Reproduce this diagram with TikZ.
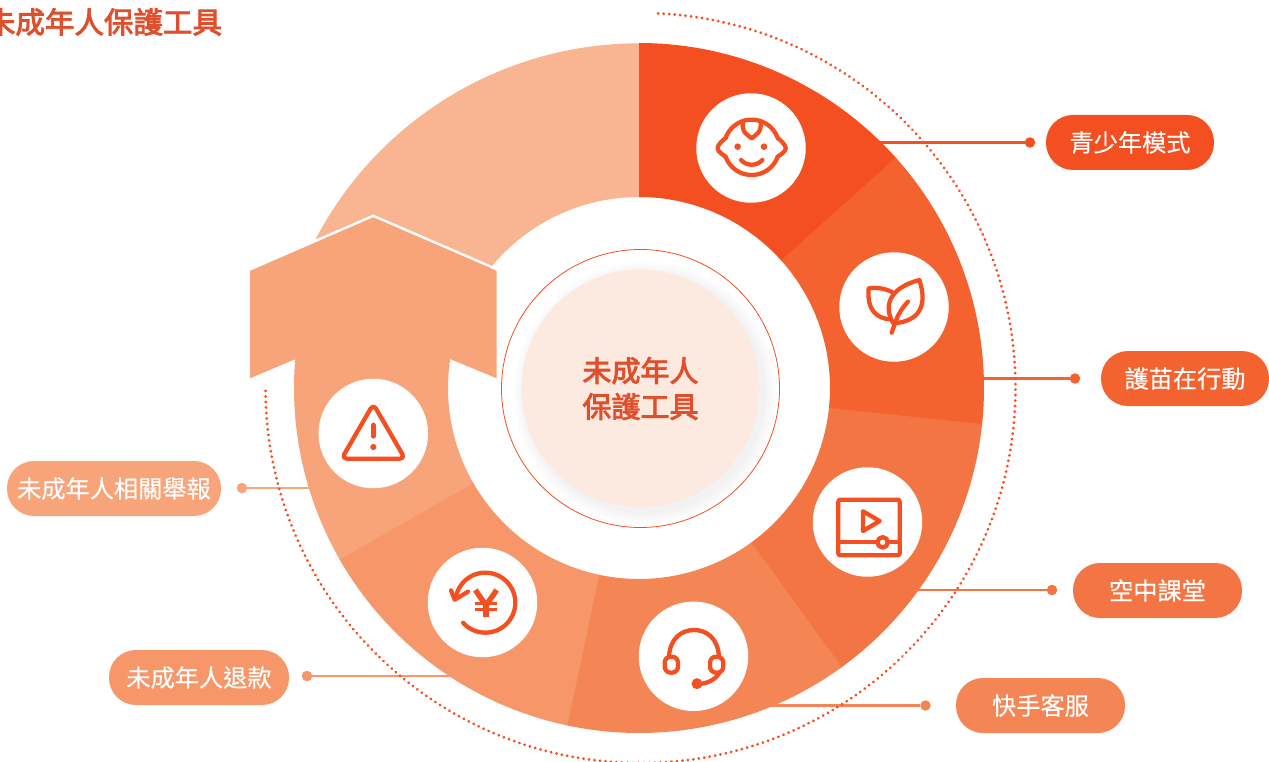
\documentclass[tikz,border=0pt]{standalone}
\usepackage{fontspec}
\setmainfont[FakeBold=0.25]{Noto Sans CJK TC}
\newfontfamily\medfont[FakeBold=3]{Noto Sans CJK TC}
\definecolor{sa}{HTML}{F34F21}
\definecolor{sb}{HTML}{F3622F}
\definecolor{sc}{HTML}{F37543}
\definecolor{sd}{HTML}{F48656}
\definecolor{se}{HTML}{F79668}
\definecolor{sf}{HTML}{F7A47B}
\definecolor{sg}{HTML}{F9B492}
\definecolor{disk}{HTML}{FCE9DF}
\definecolor{ctext}{HTML}{DF4F2C}
\tikzset{
 pill/.style={fill=#1,rounded corners=27pt,minimum height=55pt,inner sep=0pt,text=white,font=\fontsize{24.2}{28}\selectfont},
 leader/.style={draw=#1,line width=2.8pt},
 enddot/.style={circle,fill=#1,minimum size=10.5pt,inner sep=0pt},
 iconbg/.style={circle,fill=white,minimum size=109.5pt,inner sep=0pt},
 icon/.style={draw=sa,line width=4.3pt,line cap=round,line join=round},
 zoomed/.style={x=0.33333pt,y=-0.33333pt},
}
\newcommand{\ringsec}[3]{\fill[#3] (#1:191) -- (#1:345) arc[start angle=#1,end angle=#2,radius=345pt] -- (#2:191) arc[start angle=#2,end angle=#1,radius=191pt] -- cycle;}
\begin{document}
\begin{tikzpicture}[x=1pt,y=-1pt]
\useasboundingbox (0,0) rectangle (1269,762);
\clip (0,0) rectangle (1269,762);
% leaders underneath the ring
\coordinate (la) at (860,142.5);
\coordinate (lb) at (960,378.5);
\coordinate (lc) at (900,590);
\coordinate (ld) at (750,705.5);
\coordinate (le) at (470,676);
\coordinate (lf) at (330,488);
\node[enddot=sa] (da) at (1030,142.5) {};
\node[enddot=sb] (db) at (1075,378.5) {};
\node[enddot=sc] (dc) at (1052,590) {};
\node[enddot=sd] (dd) at (925.5,705.5) {};
\node[enddot=se] (de) at (307,676) {};
\node[enddot=sf] (df) at (242,488) {};
\draw[leader=sa] (la) -- (da);
\draw[leader=sb] (lb) -- (db);
\draw[leader=sc] (lc) -- (dc);
\draw[leader=sd] (ld) -- (dd);
\draw[leader=se] (le) -- (de);
\draw[leader=sf] (lf) -- (df);
% ring
\begin{scope}[shift={(639,388)},y=1pt]
\fill[sg] (0.3,191) -- (0.3,344.7) arc[start angle=90,end angle=155,radius=365.4pt] -- (-239,88) -- (145:191) arc[start angle=145,end angle=90,radius=191pt] -- cycle;
\ringsec{90}{41.6}{sa}
\ringsec{41.9}{-6.3}{sb}
\ringsec{-6}{-54.3}{sc}
\ringsec{-54}{-102.2}{sd}
\ringsec{-102}{-150.4}{se}
\ringsec{-150.2}{-190}{sf}
\end{scope}
% arrow head
\fill[sf] (250,270.7) -- (373.3,217.3) -- (496.7,270.7) -- (496.7,378.3) -- (450,359) -- (295.7,359) -- (250,378.3) -- cycle;
\draw[white,line width=2.4pt] (250,269.2) -- (373.3,215.8) -- (496.7,269.2);
% dotted arc
\begin{scope}[shift={(640.5,388)},y=1pt]
\draw[sa,line width=3.1pt,line cap=round,dash pattern=on 0.01pt off 5.5pt] (87.3:375) arc[start angle=87.3,end angle=-180,radius=375pt];
\end{scope}
% centre
\foreach \r in {132,131,...,120}{\fill[black,opacity=.0055] (645,393) circle[radius=\r pt];}
\draw[sa,line width=.8pt] (640.5,388.5) circle[radius=139pt];
\node[circle,fill=disk,minimum size=238pt,inner sep=0pt,text=ctext,align=center,font=\fontsize{29}{36}\medfont] (core) at (640.5,388.5) {未成年人\\保護工具};
% icon discs
\node[iconbg] (ca) at (751,148) {};
\node[iconbg] (cb) at (894,307) {};
\node[iconbg] (cc) at (867.5,522) {};
\node[iconbg] (cd) at (693.5,656.3) {};
\node[iconbg] (ce) at (482.5,602.5) {};
\node[iconbg] (cf) at (373.3,433.5) {};
% baby
\begin{scope}[shift={(705,105)},zoomed]
\draw[icon] plot[domain=20:160,samples=30,smooth] ({140+83*cos(\x)},{127-83*sin(\x)});
\draw[icon] plot[domain=200:340,samples=30,smooth] ({140+83*cos(\x)},{127-83*sin(\x)});
\draw[icon] (62,99) .. controls (42,115) and (32,128) .. (41,138) .. controls (46,145) and (55,150) .. (62,155);
\draw[icon] (218,99) .. controls (238,115) and (248,128) .. (239,138) .. controls (234,145) and (225,150) .. (218,155);
\draw[icon] (113,52) .. controls (110,85) and (130,90) .. (140,100) .. controls (150,90) and (170,85) .. (167,52);
\fill[sa] (98,125) circle[radius=3.3pt];
\fill[sa] (177,125) circle[radius=3.3pt];
\draw[icon] (108,165) .. controls (125,184) and (155,184) .. (172,165);
\end{scope}
% leaf
\begin{scope}[shift={(680,80)},zoomed]
\draw[icon] (640,730) .. controls (610,680) and (625,625) .. (718,600) .. controls (745,680) and (715,725) .. (640,730);
\draw[icon] (635,758) -- (648,722) .. controls (655,700) and (670,680) .. (684,665);
\draw[icon] (632,718) .. controls (590,716) and (560,690) .. (566,625) .. controls (590,622) and (615,625) .. (636,636);
\end{scope}
% video
\begin{scope}[shift={(620,460)},zoomed]
\draw[icon,rounded corners=2pt] (655,119) rectangle (839,286);
\draw[icon] (655,245) -- (772,245);
\draw[icon] (804,245) -- (839,245);
\draw[icon] (788,247) circle[radius=5.2pt];
\draw[icon] (729,154) -- (779,183) -- (729,213) -- cycle;
\end{scope}
% headset
\begin{scope}[shift={(620,460)},zoomed]
\draw[icon] (147,590) .. controls (150,535) and (185,510) .. (222,510) .. controls (260,510) and (294,535) .. (297,590);
\draw[icon,rounded corners=6pt] (134,590) rectangle (174,638);
\draw[icon,rounded corners=6pt] (270,590) rectangle (310,638);
\draw[icon] (297,640) .. controls (285,660) and (260,672) .. (232,672);
\fill[sa] (231,671) circle[radius=5.5pt];
\end{scope}
% refund
\begin{scope}[shift={(400,530)},zoomed]
\draw[icon] plot[domain=222:532,samples=60,smooth] ({256+90*cos(\x)},{218-90*sin(\x)});
\draw[icon] (153,181) -- (164,209) -- (204,185);
\draw[sa,line width=5.4pt] (226,180) -- (258,226) -- (290,180);
\draw[sa,line width=5.8pt] (258,226) -- (258,262);
\draw[sa,line width=3.4pt] (224,220) -- (291,220);
\draw[sa,line width=3.4pt] (224,238) -- (291,238);
\end{scope}
% warning
\begin{scope}[shift={(230,200)},zoomed]
\draw[icon,rounded corners=5pt] (430,612) -- (335,776) -- (525,776) -- cycle;
\draw[sa,line width=5.4pt,line cap=round] (430,676) -- (430,708);
\fill[sa] (430,741) circle[radius=3.1pt];
\end{scope}
% pills
\node[pill=sa,minimum width=168pt] (pa) at (1130,142.5) {青少年模式};
\node[pill=sb,minimum width=168pt] (pb) at (1185,378.5) {護苗在行動};
\node[pill=sc,minimum width=169pt] (pc) at (1157.5,590.5) {空中課堂};
\node[pill=sd,minimum width=169pt] (pd) at (1040.5,705.5) {快手客服};
\node[pill=se,minimum width=180pt] (pe) at (199,677.5) {未成年人退款};
\node[pill=sf,minimum width=214pt] (pf) at (114,488.5) {未成年人相關舉報};
% title
\node[inner sep=0pt,anchor=center,text=ctext,font=\fontsize{29.5}{34}\medfont] (title) at (104,22) {未成年人保護工具};
\end{tikzpicture}
\end{document}
